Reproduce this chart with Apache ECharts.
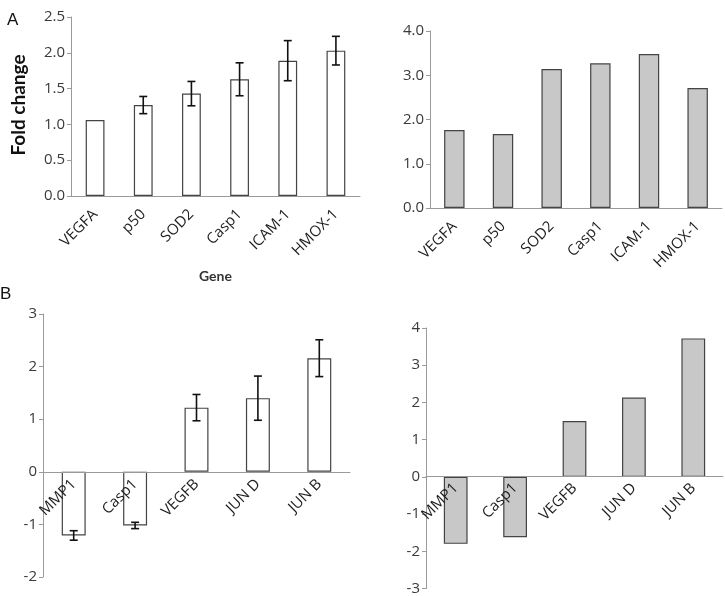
<!DOCTYPE html>
<html>
<head>
<meta charset="utf-8">
<title>Fold change</title>
<script src="https://cdn.jsdelivr.net/npm/echarts@6/dist/echarts.min.js"></script>
<style>
  html, body { margin: 0; padding: 0; background: #fff; }
  #container { width: 725px; height: 596px; }
</style>
</head>
<body>
<div id="container"></div>
<script>
// panel A data
var genesA = ['VEGFA', 'p50', 'SOD2', 'Casp1', 'ICAM-1', 'HMOX-1'];
var foldA = [1.06, 1.27, 1.43, 1.63, 1.89, 2.03];
var errA = [0, 0.12, 0.17, 0.23, 0.28, 0.20];
var foldA2 = [1.76, 1.67, 3.14, 3.27, 3.48, 2.71];

// panel B data
var genesB = ['MMP1', 'Casp1', 'VEGFB', 'JUN D', 'JUN B'];
var foldB = [-1.21, -1.02, 1.22, 1.40, 2.16];
var errB = [0.09, 0.06, 0.25, 0.42, 0.35];
var foldB2 = [-1.80, -1.62, 1.50, 2.13, 3.72];

var font = 'Open Sans';
var axisGray = '#9a9a9a';
var textColor = '#3a3a3a';
var H = 596;

var grids = [
  { left: 71, right: 365, top: 17, bottom: 400 },
  { left: 430, right: 3, top: 31, bottom: 388 },
  { left: 43, right: 375, top: 314, bottom: 19 },
  { left: 426, right: 2, top: 328, bottom: 5 }
];
var ranges = [[0, 2.5], [0, 4], [-2, 3], [-3, 4]];

var myChart = echarts.init(document.getElementById('container'));

function errData(vals, errs) {
  var out = [];
  for (var i = 0; i < vals.length; i++) {
    out.push([i, vals[i] - errs[i], vals[i] + errs[i], errs[i]]);
  }
  return out;
}

function errorBars(params, api) {
  if (api.value(3) === 0) return null;
  var lo = api.coord([api.value(0), api.value(1)]);
  var hi = api.coord([api.value(0), api.value(2)]);
  var w = 4;
  var st = { stroke: '#111', lineWidth: 1.6 };
  return {
    type: 'group',
    children: [
      { type: 'line', shape: { x1: hi[0], y1: hi[1], x2: lo[0], y2: lo[1] }, style: st },
      { type: 'line', shape: { x1: hi[0] - w, y1: hi[1], x2: hi[0] + w, y2: hi[1] }, style: st },
      { type: 'line', shape: { x1: lo[0] - w, y1: lo[1], x2: lo[0] + w, y2: lo[1] }, style: st }
    ]
  };
}

// category axis sits on the zero line of its value axis
// (onZero did not move it here, so shift by offset)
function zeroOffset(idx) {
  var g = grids[idx], r = ranges[idx];
  var h = H - g.top - g.bottom;
  return -h * (0 - r[0]) / (r[1] - r[0]);
}

function xAx(idx, cats, size, margin) {
  return {
    type: 'category', gridIndex: idx, data: cats,
    offset: zeroOffset(idx),
    z: 5,
    axisLine: { onZero: false, lineStyle: { color: axisGray } },
    axisTick: { lineStyle: { color: axisGray }, length: 4 },
    axisLabel: { interval: 0, rotate: 45, margin: margin, fontFamily: font, fontSize: size, color: '#1e1e1e' }
  };
}

function yAx(idx, step, dec, size) {
  return {
    type: 'value', gridIndex: idx, min: ranges[idx][0], max: ranges[idx][1], interval: step,
    splitLine: { show: false },
    axisLine: { show: true, onZero: false, lineStyle: { color: axisGray } },
    axisTick: { show: true, lineStyle: { color: axisGray }, length: 4 },
    axisLabel: {
      fontFamily: font, fontSize: size, color: textColor, margin: 6,
      formatter: function (v) { return v.toFixed(dec); }
    }
  };
}

var whiteBar = { color: '#fff', borderColor: '#444', borderWidth: 1.2 };
var grayBar = { color: '#c8c8c8', borderColor: '#444', borderWidth: 1.2 };

var option = {
  animation: false,
  grid: grids,
  xAxis: [
    xAx(0, genesA, 15, 16),
    xAx(1, genesA, 15, 16),
    xAx(2, genesB, 15, 10),
    xAx(3, genesB, 15, 10)
  ],
  yAxis: [
    yAx(0, 0.5, 1, 15),
    yAx(1, 1, 1, 15),
    yAx(2, 1, 0, 15),
    yAx(3, 1, 0, 15)
  ],
  graphic: [
    { type: 'text', left: 7, top: 12, style: { text: 'A', font: '17px "Liberation Sans"', fill: '#111' } },
    { type: 'text', left: 0, top: 286, style: { text: 'B', font: '17px "Liberation Sans"', fill: '#111' } },
    { type: 'text', x: 199, y: 269, style: { text: 'Gene', font: 'bold 14px Lato', fill: '#333' } },
    {
      type: 'text', x: 19, y: 105, rotation: Math.PI / 2,
      style: { text: 'Fold change', font: 'bold 19px Lato', fill: '#111', align: 'center', verticalAlign: 'middle' }
    }
  ],
  series: [
    { type: 'bar', xAxisIndex: 0, yAxisIndex: 0, data: foldA, barWidth: '39%', itemStyle: whiteBar },
    { type: 'custom', xAxisIndex: 0, yAxisIndex: 0, data: errData(foldA, errA), renderItem: errorBars, z: 5 },
    { type: 'bar', xAxisIndex: 1, yAxisIndex: 1, data: foldA2, barWidth: '42%', itemStyle: grayBar },
    { type: 'bar', xAxisIndex: 2, yAxisIndex: 2, data: foldB, barWidth: '39%', itemStyle: whiteBar },
    { type: 'custom', xAxisIndex: 2, yAxisIndex: 2, data: errData(foldB, errB), renderItem: errorBars, z: 5 },
    { type: 'bar', xAxisIndex: 3, yAxisIndex: 3, data: foldB2, barWidth: '40%', itemStyle: grayBar }
  ]
};

myChart.setOption(option);
</script>
</body>
</html>
